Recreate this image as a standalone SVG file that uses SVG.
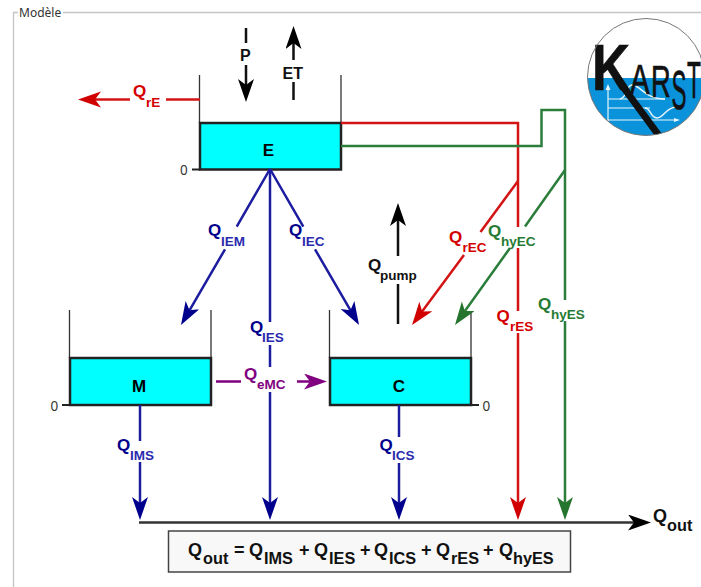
<svg xmlns="http://www.w3.org/2000/svg" width="701" height="587" viewBox="0 0 701 587">
<style>
text{font-family:"Liberation Sans",Arial,sans-serif;font-weight:bold}
.c{fill:none;stroke-width:2.5}
.k{stroke:#111}.r{stroke:#d41414}.g{stroke:#2a7d3a}.b{stroke:#1c1ca0}.p{stroke:#800080}
.tk{fill:#111}.tr{fill:#d40000}.tg{fill:#267a33}.tb{fill:#00008c}.tb2{fill:#2a2aae}.tp{fill:#800080}
.q{font-size:17px}.s{font-size:13.5px}.f{font-size:18px;fill:#111}.fs{font-size:16.3px;fill:#111}
.wall{stroke:#333;stroke-width:1.3;fill:none}
.tank{fill:#00ffff;stroke:#222;stroke-width:2.5}
.tick{stroke:#222;stroke-width:2}
.zero{font-family:"Noto Sans","Liberation Sans",sans-serif;font-weight:normal;font-size:13.5px;fill:#333}
.n{font-size:17px;fill:#000;text-anchor:middle}
.pl{font-size:16px;fill:#111}
.lg{fill:#111;stroke:#111;stroke-width:.7}
</style>
<defs>
<marker id="hk" markerUnits="userSpaceOnUse" markerWidth="26" markerHeight="20" refX="13" refY="8" orient="auto"><path d="M0,0 L23,8 L0,16 L6,8z" fill="#000"/></marker>
<marker id="hr" markerUnits="userSpaceOnUse" markerWidth="26" markerHeight="20" refX="13" refY="8" orient="auto"><path d="M0,0 L23,8 L0,16 L6,8z" fill="#d00000"/></marker>
<marker id="hg" markerUnits="userSpaceOnUse" markerWidth="26" markerHeight="20" refX="13" refY="8" orient="auto"><path d="M0,0 L23,8 L0,16 L6,8z" fill="#26752f"/></marker>
<marker id="hb" markerUnits="userSpaceOnUse" markerWidth="26" markerHeight="20" refX="13" refY="8" orient="auto"><path d="M0,0 L23,8 L0,16 L6,8z" fill="#00008c"/></marker>
<marker id="hp" markerUnits="userSpaceOnUse" markerWidth="26" markerHeight="20" refX="13" refY="8" orient="auto"><path d="M0,0 L23,8 L0,16 L6,8z" fill="#800080"/></marker>
<clipPath id="lc"><circle cx="646" cy="77" r="58.5"/></clipPath>
</defs>
<rect width="701" height="587" fill="#fff"/>
<g id="frame">
<path d="M18,12.5H13.5V587M63,12.5H701" fill="none" stroke="#c4c4c4" stroke-width="1.3"/>
<text x="19" y="17" style="font-family:'Noto Sans','Liberation Sans',sans-serif;font-weight:normal;font-size:12px" fill="#333">Modèle</text>
</g>
<g id="logo">
<g clip-path="url(#lc)">
<rect x="587" y="18" width="118" height="60" fill="#fff"/>
<rect x="587" y="78" width="118" height="60" fill="#0a92da"/>
<path d="M608,122V87M608,99H665M608,108H650M608,120H678" fill="none" stroke="#e8f6fc" stroke-width="1.2"/>
<path d="M674,118L680,120L674,122z M605.500,90L608,84L610.500,90z" fill="#e8f6fc"/>
<path d="M620,99C628,97 626,85 632,85C641,85 644,99 665,99M645,108C651,108 650,118 657,118C664,118 665,108 676,107" fill="none" stroke="#e8f6fc" stroke-width="1.4"/>
<path d="M618,80L660,137" stroke="#111" stroke-width="7" fill="none"/>
</g>
<text class="lg" x="592" y="90" style="font-size:62px" transform="translate(592 90) scale(.85 1.05) translate(-592 -90)">K</text>
<text class="lg" x="630" y="94" style="font-size:42px;font-weight:normal" transform="translate(630 94) scale(.7 1.02) translate(-630 -94)">A</text>
<text class="lg" x="651" y="97" style="font-size:44px;font-weight:normal" transform="translate(651 97) scale(.62 1) translate(-651 -97)">R</text>
<text class="lg" x="671.500" y="109" style="font-size:56px;font-weight:normal" transform="translate(671.500 109) scale(.4 1) translate(-671.500 -109)">S</text>
<text class="lg" x="687" y="98" style="font-size:52px;font-weight:normal" transform="translate(687 98) scale(.44 1) translate(-687 -98)">T</text>
<circle cx="646" cy="77" r="58.5" fill="none" stroke="#777" stroke-width="1"/>
</g>
<g id="node-E">
<path class="wall" d="M199.500,75V123M341,75V123"/>
<path class="tick" d="M192,169.500H200"/>
<rect class="tank" x="200" y="123" width="141" height="46.500"/>
<text class="n" x="268.500" y="156">E</text>
<text class="zero" x="180" y="175">0</text>
</g>
<g id="node-M">
<path class="wall" d="M69.500,310V358M211,310V358"/>
<path class="tick" d="M62,405H70"/>
<rect class="tank" x="70" y="358" width="141" height="47"/>
<text class="n" x="139" y="392">M</text>
<text class="zero" x="50.500" y="411">0</text>
</g>
<g id="node-C">
<path class="wall" d="M329.500,310V358M471,313V358"/>
<path class="tick" d="M471,405H479"/>
<rect class="tank" x="330" y="358" width="141" height="47"/>
<text class="n" x="399" y="392">C</text>
<text class="zero" x="482.500" y="411">0</text>
</g>
<g id="connectors">
<path class="c k" d="M246,28V43M246,65V92" marker-end="url(#hk)"/>
<path class="c k" d="M293.500,100V82M293.500,60V36" marker-end="url(#hk)"/>
<path class="c r" d="M200,99.500H166M130,99.500H88" marker-end="url(#hr)"/>
<path class="c b" d="M270,169L236.700,226.700M225,249.300L186,316.300" marker-end="url(#hb)"/>
<path class="c b" d="M270,169L303.300,226.700M315,249.300L354,316.300" marker-end="url(#hb)"/>
<path class="c b" d="M270,169V322M270,345V367M270,392V510" marker-end="url(#hb)"/>
<path class="c b" d="M140,405V441M140,462V510" marker-end="url(#hb)"/>
<path class="c b" d="M399,405V437M399,463V510" marker-end="url(#hb)"/>
<path class="c p" d="M216,381.500H241M297,381.500H317" marker-end="url(#hp)"/>
<path class="c r" d="M341,123H518V227M518,248V311M518,333V510" marker-end="url(#hr)"/>
<path class="c r" d="M518,181L480.500,232M464,255L418,317" marker-end="url(#hr)"/>
<path class="c g" d="M341,146H541.500V110H565V300M565,321V510" marker-end="url(#hg)"/>
<path class="c g" d="M565,170L525,226.500M510,248L460.800,316.800" marker-end="url(#hg)"/>
<path class="c k" d="M398,324V284M398,256V213" marker-end="url(#hk)"/>
<path class="c" stroke="#333" stroke-width="3" d="M139,522.500H641" marker-end="url(#hk)"/>
</g>
<g id="labels">
<text class="pl" x="240" y="61">P</text>
<text class="pl" x="282.500" y="79">ET</text>
<text class="q tr" x="133" y="97">Q</text><text class="s tr" x="146" y="107">rE</text>
<text class="q tb" x="208" y="236">Q</text><text class="s tb2" x="221" y="246">IEM</text>
<text class="q tb" x="289" y="236">Q</text><text class="s tb2" x="302" y="246">IEC</text>
<text class="q tb" x="250" y="333">Q</text><text class="s tb2" x="262" y="342">IES</text>
<text class="q tp" x="244" y="380">Q</text><text class="s tp" x="257" y="389">eMC</text>
<text class="q tk" x="368" y="271">Q</text><text class="s tk" x="380" y="280">pump</text>
<text class="q tr" x="449" y="243">Q</text><text class="s tr" x="462.500" y="252">rEC</text>
<text class="q tg" x="488" y="237">Q</text><text class="s tg" x="501" y="246">hyEC</text>
<text class="q tr" x="496.500" y="322">Q</text><text class="s tr" x="510" y="331">rES</text>
<text class="q tg" x="538" y="310">Q</text><text class="s tg" x="551" y="319">hyES</text>
<text class="q tb" x="117" y="451">Q</text><text class="s tb2" x="130" y="460">IMS</text>
<text class="q tb" x="379.500" y="451">Q</text><text class="s tb2" x="392" y="460">ICS</text>
<text class="f" x="653" y="522">Q</text><text class="fs" x="667" y="531">out</text>
</g>
<g id="formula">
<rect x="168.500" y="531" width="402" height="41" fill="#f8f8f8" stroke="#444" stroke-width="1.5"/>
<text class="f" x="188" y="556">Q</text><text class="fs" x="203" y="564">out</text>
<text class="f" x="234" y="556">=</text>
<text class="f" x="249" y="556">Q</text><text class="fs" x="264" y="564">IMS</text>
<text class="f" x="299" y="556">+</text>
<text class="f" x="314" y="556">Q</text><text class="fs" x="329" y="564">IES</text>
<text class="f" x="360" y="556">+</text>
<text class="f" x="374" y="556">Q</text><text class="fs" x="389" y="564">ICS</text>
<text class="f" x="421" y="556">+</text>
<text class="f" x="436" y="556">Q</text><text class="fs" x="451" y="564">rES</text>
<text class="f" x="483" y="556">+</text>
<text class="f" x="499" y="556">Q</text><text class="fs" x="513" y="564">hyES</text>
</g>
</svg>
